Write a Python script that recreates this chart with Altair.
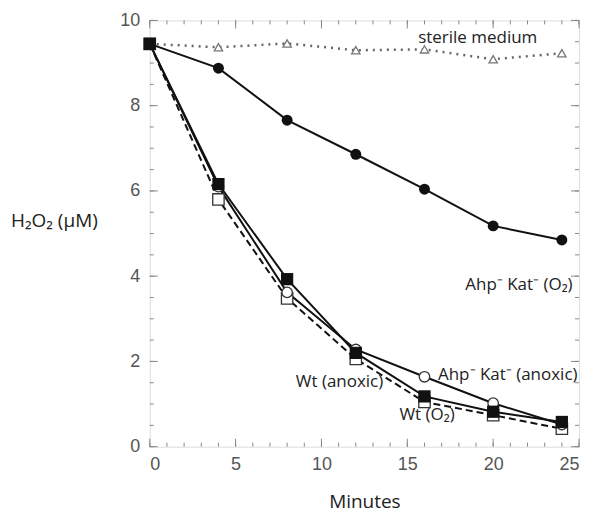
import altair as alt
import pandas as pd

minutes = [0, 4, 8, 12, 16, 20, 24]
sterile = [9.45, 9.37, 9.46, 9.30, 9.32, 9.09, 9.23]
ahp_o2 = [9.45, 8.88, 7.66, 6.86, 6.04, 5.18, 4.85]
wt_o2 = [9.45, 6.16, 3.93, 2.20, 1.18, 0.82, 0.58]
wt_anoxic = [9.45, 5.80, 3.48, 2.06, 1.05, 0.74, 0.42]
ahp_anoxic = [9.45, 6.10, 3.62, 2.28, 1.64, 1.02, 0.52]

label_text = ["sterile medium", "Ahp\u207b Kat\u207b (O\u2082)", "Ahp\u207b Kat\u207b (anoxic)", "Wt (anoxic)", "Wt (O\u2082)"]
label_x = [19.1, 21.5, 20.85, 11.05, 16.15]
label_y = [9.58, 3.79, 1.69, 1.52, 0.75]

x_major = [0, 5, 10, 15, 20, 25]
x_minor = list(range(0, 26))
y_major = [0, 2, 4, 6, 8, 10]
y_minor = [i * 0.5 for i in range(21)]

W, H = 430, 427
xs = alt.Scale(domain=[0, 25], nice=False)
ys = alt.Scale(domain=[0, 10], nice=False)

X = alt.X("t:Q", scale=xs, title="Minutes",
          axis=alt.Axis(values=x_major, ticks=False, domain=False, grid=False,
                        labelFont="Liberation Sans", labelFontSize=18, labelColor="#555",
                        labelPadding=9, titleFont="Open Sans", titleFontSize=19,
                        titleFontWeight="normal", titleColor="#222", titlePadding=19))
Y = alt.Y("v:Q", scale=ys, title="H\u2082O\u2082 (\u03bcM)",
          axis=alt.Axis(values=y_major, ticks=False, domain=False, grid=False,
                        labelFont="Liberation Sans", labelFontSize=18, labelColor="#555",
                        labelPadding=10, titleFont="Open Sans", titleFontSize=19,
                        titleFontWeight="normal", titleColor="#222", titleAngle=0,
                        titleX=-96, titleY=200, titleAlign="center", titleBaseline="middle"))


def series_df(vals):
    return pd.DataFrame({"t": minutes, "v": vals})


def line(vals, dash=None, color="#111", width=2):
    kw = dict(color=color, strokeWidth=width)
    if dash:
        kw["strokeDash"] = dash
    return alt.Chart(series_df(vals)).mark_line(**kw).encode(x=X, y=Y)


def pts(vals, shape, filled, size, color="#111", sw=1.3):
    return alt.Chart(series_df(vals)).mark_point(
        shape=shape, filled=filled, size=size, color=color, strokeWidth=sw,
        opacity=1, fill=color if filled else "white").encode(x=X, y=Y)


def tick_layer(vals, axis, length, side):
    if axis == "x":
        df = pd.DataFrame({"t": vals})
        y1, y2 = (H, H - length) if side == "bottom" else (0, length)
        return alt.Chart(df).mark_rule(color="#888", strokeWidth=1).encode(
            x=X, y=alt.value(y1), y2=alt.value(y2))
    df = pd.DataFrame({"v": vals})
    x1, x2 = (0, length) if side == "left" else (W, W - length)
    return alt.Chart(df).mark_rule(color="#888", strokeWidth=1).encode(
        y=Y, x=alt.value(x1), x2=alt.value(x2))


ticks = [
    tick_layer(x_minor, "x", 4, "bottom"), tick_layer(x_major, "x", 8, "bottom"),
    tick_layer(x_minor, "x", 4, "top"), tick_layer(x_major, "x", 8, "top"),
    tick_layer(y_minor, "y", 4, "left"), tick_layer(y_major, "y", 8, "left"),
    tick_layer(y_minor, "y", 4, "right"), tick_layer(y_major, "y", 8, "right"),
]

lbl_df = pd.DataFrame({"t": label_x, "v": label_y, "s": label_text})
labels = alt.Chart(lbl_df).mark_text(font="Open Sans", fontSize=17, color="#222",
                                     align="center", baseline="middle").encode(
    x=X, y=Y, text="s:N")

chart = alt.layer(
    *ticks,
    line(sterile, dash=[2, 5], color="#666", width=2.5),
    pts(sterile, "triangle-up", False, 70, color="#777"),
    line(ahp_o2),
    line(ahp_anoxic),
    line(wt_anoxic, dash=[7, 4]),
    line(wt_o2),
    pts(wt_anoxic, "square", False, 130, color="#333"),
    pts(ahp_anoxic, "circle", False, 110, color="#333"),
    pts(wt_o2, "square", True, 150),
    pts(ahp_o2, "circle", True, 120),
    labels,
).properties(
    width=W, height=H,
    autosize=alt.AutoSizeParams(type="none"),
    padding={"left": 142, "top": 12, "right": 14, "bottom": 73},
).configure_view(stroke="#999", strokeWidth=1.5).configure(background="white")

chart.save("out.html", embed_options={"renderer": "svg", "actions": False})
